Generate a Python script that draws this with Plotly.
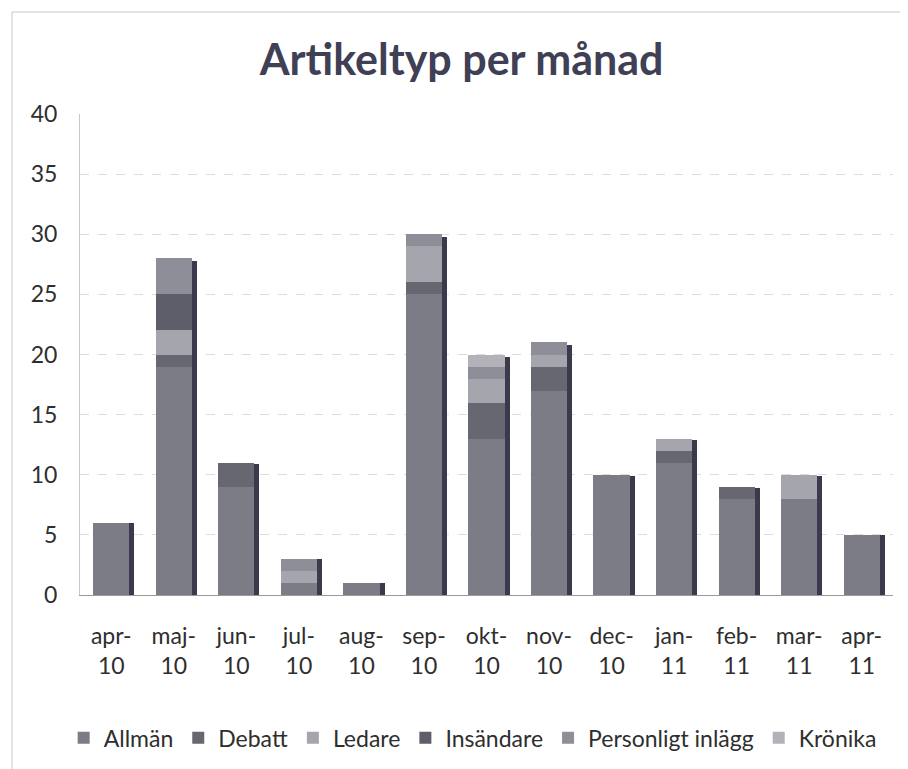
import plotly.graph_objects as go

months = ["apr-<br>10", "maj-<br>10", "jun-<br>10", "jul-<br>10", "aug-<br>10", "sep-<br>10",
          "okt-<br>10", "nov-<br>10", "dec-<br>10", "jan-<br>11", "feb-<br>11", "mar-<br>11", "apr-<br>11"]

allman = [6, 19, 9, 1, 1, 25, 13, 17, 10, 11, 8, 8, 5]
debatt = [0, 1, 2, 0, 0, 1, 3, 2, 0, 1, 1, 0, 0]
ledare = [0, 2, 0, 1, 0, 3, 2, 1, 0, 1, 0, 2, 0]
insandare = [0, 3, 0, 0, 0, 0, 0, 0, 0, 0, 0, 0, 0]
personligt = [0, 3, 0, 1, 0, 1, 1, 1, 0, 0, 0, 0, 0]
kronika = [0, 0, 0, 0, 0, 0, 1, 0, 0, 0, 0, 0, 0]

series = [
    ("Allmän", allman, "#7c7c86"),
    ("Debatt", debatt, "#676772"),
    ("Ledare", ledare, "#a5a5ad"),
    ("Insändare", insandare, "#5e5e6a"),
    ("Personligt inlägg", personligt, "#8e8e98"),
    ("Krönika", kronika, "#b2b2b8"),
]

totals = [sum(v) for v in zip(allman, debatt, ledare, insandare, personligt, kronika)]

FONT = "Lato, 'Open Sans', sans-serif"

fig = go.Figure()

# shadow strip (3D effect) on an overlaying axis so it is not stacked
fig.add_trace(go.Bar(
    x=months, y=totals, yaxis="y2", width=0.08, offset=0.29,
    marker=dict(color="#3a3a4c", line=dict(width=0)),
    showlegend=False, hoverinfo="skip",
))

for name, vals, col in series:
    fig.add_trace(go.Bar(
        x=months, y=vals, name=name, width=0.58, offset=-0.29,
        marker=dict(color=col, line=dict(width=0)),
    ))

fig.update_layout(
    width=900, height=761,
    barmode="stack",
    paper_bgcolor="white", plot_bgcolor="white",
    margin=dict(l=72, r=15, t=106, b=174, autoexpand=False),
    font=dict(family=FONT, size=21, color="#2e2e2e"),
    title=dict(text="<b>Artikeltyp per månad</b>", x=0.504, xanchor="center",
               y=0.932, yanchor="middle",
               font=dict(family=FONT, size=43, color="#3f3f55")),
    xaxis=dict(showgrid=False, showline=True, linecolor="#9a9a9a", linewidth=1,
               ticks="", tickfont=dict(size=23, color="#2e2e2e"),
               ticklabelstandoff=20, tickangle=0, automargin=False),
    yaxis=dict(range=[0, 40], dtick=5, showgrid=True, gridcolor="#dcdcdc",
               gridwidth=1, griddash="dash", showline=True, linecolor="#c8c8c8",
               ticks="", tickfont=dict(size=23, color="#2e2e2e"),
               ticklabelstandoff=17, zeroline=False, automargin=False),
    yaxis2=dict(range=[0, 40.35], overlaying="y", visible=False),
    legend=dict(orientation="h", x=0.483, xanchor="center", y=-0.297, yanchor="middle",
                font=dict(size=23, color="#2e2e2e"), traceorder="normal"),
    shapes=[dict(type="rect", xref="paper", yref="paper", x0=-0.0836, x1=1.05,
                 y0=-0.5, y1=1.212, line=dict(color="#c8c8c8", width=1))],
)

fig.write_html("out.html")
